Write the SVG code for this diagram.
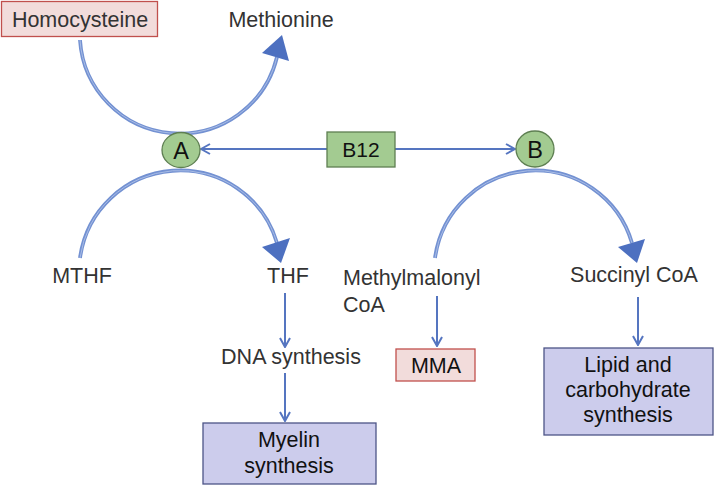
<svg xmlns="http://www.w3.org/2000/svg" width="719" height="486" viewBox="0 0 719 486">
<style>
text{font-family:"Liberation Sans",Arial,sans-serif;font-size:21.5px;fill:#333;text-anchor:middle}
.k{fill:#111}
.pink{fill:#f2dcdb;stroke:#c0504d;stroke-width:1.3}
.green{fill:#a3cb91;stroke:#5e7f52;stroke-width:1.3}
.lav{fill:#ccccec;stroke:#4d5587;stroke-width:1.3}
.arc{fill:none;stroke:#7391d2;stroke-width:3.8}
.arcin{fill:none;stroke:#a9bde6;stroke-width:1}
.head{fill:#4d70c0}
.ln{fill:none;stroke:#5575c0;stroke-width:2}
</style>
<defs>
<marker id="chev" viewBox="0 0 12 12" refX="11" refY="6" markerWidth="12" markerHeight="12" markerUnits="userSpaceOnUse" orient="auto">
<polyline points="2,1 11,6 2,11" fill="none" stroke="#5575c0" stroke-width="2"/>
</marker>
</defs>
<g id="connectors">
<path class="arc" d="M80,40 A100,100 0 0 0 277,57"/>
<path class="arcin" d="M80,40 A100,100 0 0 0 277,57"/>
<polygon class="head" points="282,35 262,53 289,61"/>
<path class="arc" d="M80,258 A101,101 0 0 1 277,243"/>
<path class="arcin" d="M80,258 A101,101 0 0 1 277,243"/>
<polygon class="head" points="281,263 262,247 290,238"/>
<path class="arc" d="M435,258 A101,101 0 0 1 632,243"/>
<path class="arcin" d="M435,258 A101,101 0 0 1 632,243"/>
<polygon class="head" points="637,263 618,247 645,239"/>
<line class="ln" x1="327" y1="149" x2="201" y2="149" marker-end="url(#chev)"/>
<line class="ln" x1="395" y1="149" x2="515" y2="149" marker-end="url(#chev)"/>
<line class="ln" x1="285" y1="293" x2="285" y2="347" marker-end="url(#chev)"/>
<line class="ln" x1="285" y1="373" x2="285" y2="421" marker-end="url(#chev)"/>
<line class="ln" x1="437" y1="296" x2="437" y2="346" marker-end="url(#chev)"/>
<line class="ln" x1="638" y1="297" x2="638" y2="345" marker-end="url(#chev)"/>
</g>
<g id="homocysteine"><rect class="pink" x="1.5" y="1.5" width="156" height="35"/><text x="80" y="27">Homocysteine</text></g>
<g id="methionine"><text x="281" y="27">Methionine</text></g>
<g id="nodeA"><ellipse class="green" cx="181" cy="150" rx="19" ry="17.5"/><text class="k" x="181" y="158.5" style="font-size:23.5px">A</text></g>
<g id="b12"><rect class="green" x="327" y="132" width="68" height="35"/><text class="k" x="361" y="157" style="font-size:21px">B12</text></g>
<g id="nodeB"><ellipse class="green" cx="535" cy="149" rx="19" ry="18"/><text class="k" x="535" y="157.5" style="font-size:23.5px">B</text></g>
<g id="mthf"><text x="82" y="283">MTHF</text></g>
<g id="thf"><text x="288" y="283">THF</text></g>
<g id="dna"><text x="291" y="364">DNA synthesis</text></g>
<g id="myelin"><rect class="lav" x="203" y="423" width="173" height="61"/><text class="k" x="289" y="447">Myelin</text><text class="k" x="289" y="473">synthesis</text></g>
<g id="methylmalonyl"><text x="343" y="285" style="text-anchor:start">Methylmalonyl</text><text x="343" y="312" style="text-anchor:start">CoA</text></g>
<g id="mma"><rect class="pink" x="396" y="349" width="79" height="32"/><text class="k" x="436" y="373">MMA</text></g>
<g id="succinyl"><text x="634" y="282">Succinyl CoA</text></g>
<g id="lipid"><rect class="lav" x="544" y="348" width="169" height="87"/><text class="k" x="628" y="372">Lipid and</text><text class="k" x="628" y="397">carbohydrate</text><text class="k" x="628" y="422">synthesis</text></g>
</svg>
